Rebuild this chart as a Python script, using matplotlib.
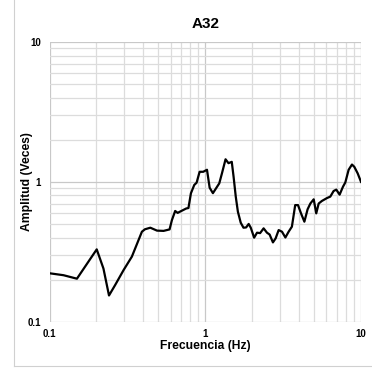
import matplotlib
matplotlib.use("Agg")
import matplotlib.pyplot as plt
from matplotlib.ticker import LogLocator, FixedLocator, FixedFormatter, NullFormatter
from matplotlib.lines import Line2D

plt.rcParams['font.family'] = ['Liberation Sans', 'DejaVu Sans']

freq = [0.100, 0.123, 0.150, 0.201, 0.222, 0.241, 0.264, 0.299, 0.338, 0.392, 0.410,
        0.444, 0.490, 0.540, 0.590, 0.611, 0.641, 0.665, 0.700, 0.755, 0.780, 0.809,
        0.850, 0.880, 0.920, 0.970, 1.026, 1.067, 1.120, 1.180, 1.230, 1.280, 1.350,
        1.410, 1.480, 1.520, 1.570, 1.620, 1.690, 1.760, 1.830, 1.900, 1.960, 2.060,
        2.150, 2.250, 2.370, 2.490, 2.590, 2.720, 2.830, 2.960, 3.110, 3.270, 3.430,
        3.600, 3.780, 3.940, 4.120, 4.330, 4.540, 4.730, 4.970, 5.160, 5.350, 5.610,
        6.050, 6.350, 6.670, 6.940, 7.290, 7.660, 7.930, 8.330, 8.750, 9.060, 9.520,
        10.00]
amp = [0.222, 0.215, 0.203, 0.329, 0.240, 0.154, 0.183, 0.234, 0.292, 0.440, 0.458,
       0.470, 0.448, 0.446, 0.457, 0.533, 0.619, 0.600, 0.618, 0.645, 0.650, 0.828,
       0.950, 0.986, 1.180, 1.180, 1.220, 0.908, 0.830, 0.908, 0.975, 1.150, 1.450,
       1.360, 1.390, 1.090, 0.784, 0.612, 0.510, 0.470, 0.472, 0.500, 0.470, 0.399,
       0.433, 0.430, 0.465, 0.433, 0.420, 0.369, 0.394, 0.452, 0.440, 0.400, 0.440,
       0.478, 0.682, 0.682, 0.595, 0.519, 0.636, 0.700, 0.750, 0.595, 0.700, 0.730,
       0.766, 0.784, 0.860, 0.880, 0.810, 0.923, 0.990, 1.220, 1.330, 1.280, 1.150,
       1.000]

x_ticks = [0.1, 1, 10]
x_labels = ["0.1", "1", "10"]
y_ticks = [0.1, 1, 10]
y_labels = ["0.1", "1", "10"]

fig = plt.figure(figsize=(3.72, 3.71), dpi=100)
ax = fig.add_axes([49.5/372, 1 - 321.7/371, 311.5/372, 279.7/371])
ax.plot(freq, amp, color='black', lw=1.6, zorder=3)
ax.set_xscale('log')
ax.set_yscale('log')
ax.set_xlim(0.1, 10)
ax.set_ylim(0.1, 10)

ax.xaxis.set_major_locator(FixedLocator(x_ticks))
ax.xaxis.set_major_formatter(FixedFormatter(x_labels))
ax.yaxis.set_major_locator(FixedLocator(y_ticks))
ax.yaxis.set_major_formatter(FixedFormatter(y_labels))
ax.xaxis.set_minor_locator(LogLocator(base=10, subs=range(2, 10)))
ax.yaxis.set_minor_locator(LogLocator(base=10, subs=range(2, 10)))
ax.xaxis.set_minor_formatter(NullFormatter())
ax.yaxis.set_minor_formatter(NullFormatter())

ax.grid(which='major', color='#c8c8c8', lw=0.9)
ax.grid(which='minor', color='#dcdcdc', lw=0.9)
ax.tick_params(which='both', length=0, labelsize=7)
ax.tick_params(axis='x', pad=5)
ax.tick_params(axis='y', pad=6)
for lab in ax.get_xticklabels() + ax.get_yticklabels():
    lab.set_fontweight('bold')
for s in ax.spines.values():
    s.set_visible(False)

ax.set_title('A32', fontsize=11, fontweight='bold', pad=10)
ax.set_xlabel('Frecuencia (Hz)', fontsize=8.7, fontweight='bold')
ax.set_ylabel('Amplitud (Veces)', fontsize=8.7, fontweight='bold')
ax.yaxis.set_label_coords(-0.053, 0.5)
ax.xaxis.set_label_coords(0.5, -0.064)

fig.add_artist(Line2D([14/372, 14/372], [1 - 366/371, 1], color='#d0d0d0', lw=0.8, transform=fig.transFigure))
fig.add_artist(Line2D([14/372, 1], [1 - 366/371, 1 - 366/371], color='#d0d0d0', lw=0.8, transform=fig.transFigure))

fig.savefig('out.png', dpi=100)
